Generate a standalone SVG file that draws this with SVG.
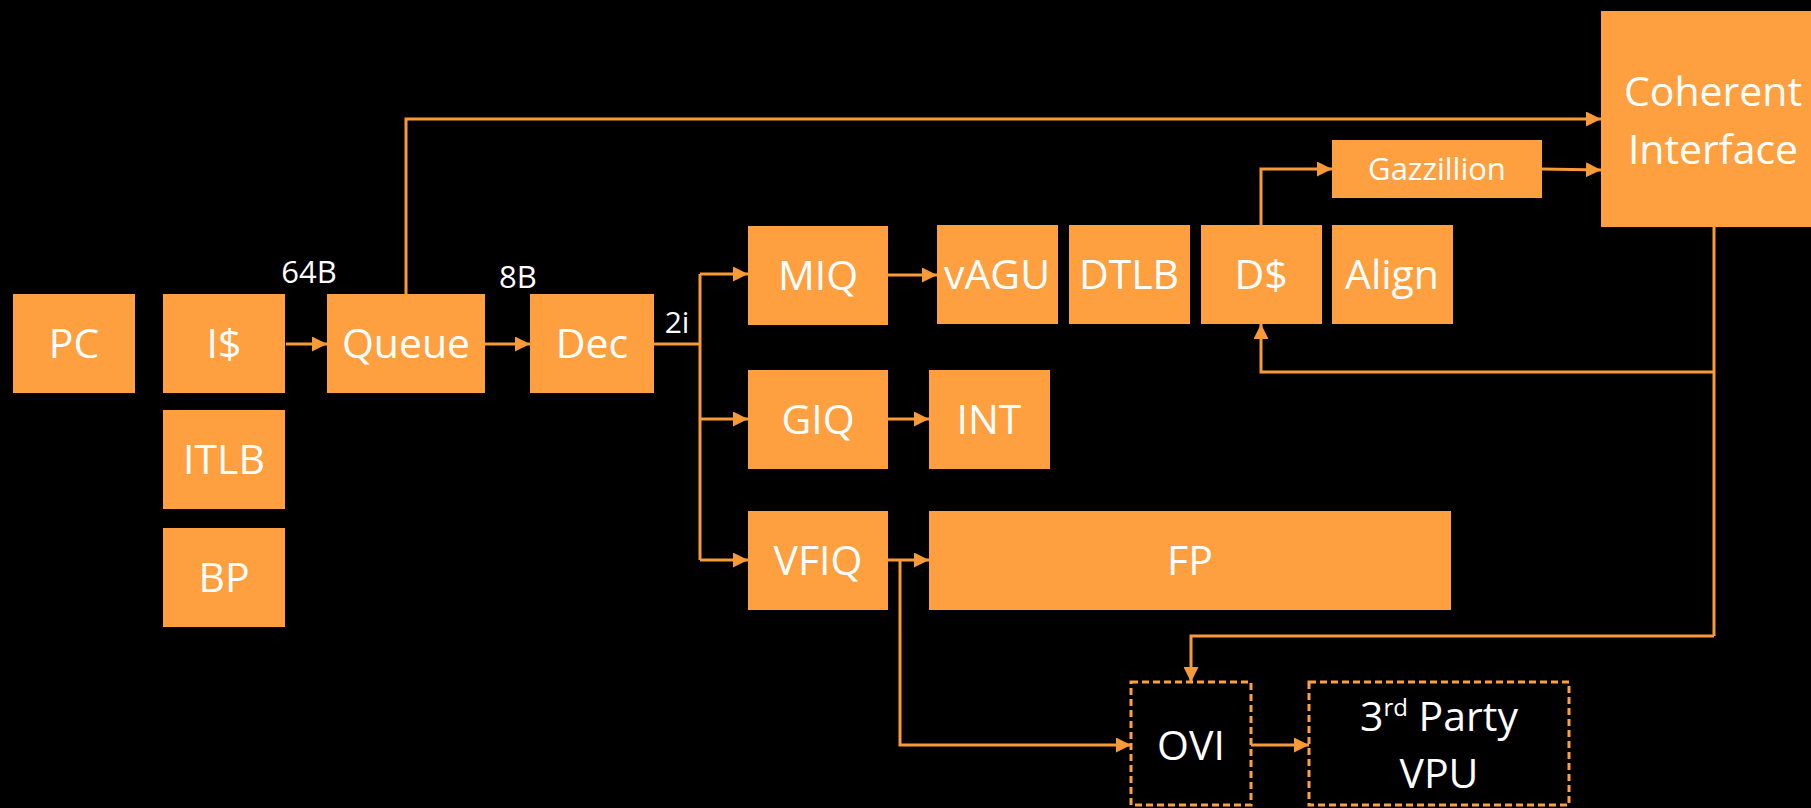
<svg xmlns="http://www.w3.org/2000/svg" width="1811" height="808" viewBox="0 0 1811 808">
<defs>
<style>
.box{fill:#FFA040}
.dash{fill:#000;stroke:#FFA040;stroke-width:3;stroke-dasharray:7,4}
.t{fill:#fff;font-family:"Open Sans","Noto Sans",sans-serif;font-size:41px;text-anchor:middle}
.s{fill:#fff;font-family:"Open Sans","Noto Sans",sans-serif;font-size:31px;text-anchor:middle}
.ln{fill:none;stroke:#F99A38;stroke-width:3}
.ar{marker-end:url(#ah)}
</style>
<marker id="ah" viewBox="0 0 15 15" refX="15" refY="7.5" markerWidth="15" markerHeight="15" markerUnits="userSpaceOnUse" orient="auto">
<path d="M0,0 L15,7.5 L0,15 z" fill="#F99A38"/>
</marker>
</defs>
<rect width="1811" height="808" fill="#000"/>
<g id="connectors">
<path class="ln ar" d="M286,344 H327"/>
<path class="ln ar" d="M485,344 H530"/>
<path class="ln" d="M654,344 H700"/>
<path class="ln" d="M700,274 V560"/>
<path class="ln ar" d="M700,274 H748"/>
<path class="ln ar" d="M700,419 H748"/>
<path class="ln ar" d="M700,560 H748"/>
<path class="ln ar" d="M406,294 V119 H1601"/>
<path class="ln ar" d="M888,275 H937"/>
<path class="ln ar" d="M888,419 H929"/>
<path class="ln ar" d="M888,560 H929"/>
<path class="ln ar" d="M1261,225 V169 H1332"/>
<path class="ln ar" d="M1542,169 L1601,170"/>
<path class="ln" d="M1714,227 V636"/>
<path class="ln ar" d="M1714,372 H1261 V324"/>
<path class="ln ar" d="M1714,636 H1191 V682"/>
<path class="ln ar" d="M900,560 V745 H1131"/>
<path class="ln ar" d="M1251,745 H1309"/>
</g>
<g id="pc"><rect class="box" x="13" y="294" width="122" height="99"/><text class="t" x="74" y="358">PC</text></g>
<g id="icache"><rect class="box" x="163" y="294" width="122" height="99"/><text class="t" x="224" y="358">I$</text></g>
<g id="itlb"><rect class="box" x="163" y="410" width="122" height="99"/><text class="t" x="224" y="474">ITLB</text></g>
<g id="bp"><rect class="box" x="163" y="528" width="122" height="99"/><text class="t" x="224" y="592">BP</text></g>
<g id="queue"><rect class="box" x="327" y="294" width="158" height="99"/><text class="t" x="406" y="358">Queue</text></g>
<g id="dec"><rect class="box" x="530" y="294" width="124" height="99"/><text class="t" x="592" y="358">Dec</text></g>
<g id="labels">
<text class="s" x="309" y="283">64B</text>
<text class="s" x="518" y="288">8B</text>
<text class="s" x="677" y="333" style="font-size:30px">2i</text>
</g>
<g id="miq"><rect class="box" x="748" y="226" width="140" height="99"/><text class="t" x="818" y="290">MIQ</text></g>
<g id="vagu"><rect class="box" x="937" y="225" width="121" height="99"/><text class="t" x="997" y="289">vAGU</text></g>
<g id="dtlb"><rect class="box" x="1069" y="225" width="121" height="99"/><text class="t" x="1129" y="289">DTLB</text></g>
<g id="dcache"><rect class="box" x="1201" y="225" width="121" height="99"/><text class="t" x="1261" y="289">D$</text></g>
<g id="align"><rect class="box" x="1332" y="225" width="121" height="99"/><text class="t" x="1392" y="289">Align</text></g>
<g id="gazzillion"><rect class="box" x="1332" y="140" width="210" height="58"/><text class="t" x="1437" y="180" style="font-size:31px">Gazzillion</text></g>
<g id="coherent"><rect class="box" x="1601" y="11" width="230" height="216"/><text class="t" x="1713" y="106">Coherent</text><text class="t" x="1713" y="164">Interface</text></g>
<g id="giq"><rect class="box" x="748" y="370" width="140" height="99"/><text class="t" x="818" y="434">GIQ</text></g>
<g id="int"><rect class="box" x="929" y="370" width="121" height="99"/><text class="t" x="989" y="434">INT</text></g>
<g id="vfiq"><rect class="box" x="748" y="511" width="140" height="99"/><text class="t" x="818" y="575">VFIQ</text></g>
<g id="fp"><rect class="box" x="929" y="511" width="522" height="99"/><text class="t" x="1190" y="575">FP</text></g>
<g id="ovi"><rect class="dash" x="1131" y="682" width="120" height="123"/><text class="t" x="1191" y="760">OVI</text></g>
<g id="vpu"><rect class="dash" x="1309" y="682" width="260" height="123"/><text class="t" x="1439" y="731">3<tspan dy="-15" style="font-size:24px">rd</tspan><tspan dy="15"> Party</tspan></text><text class="t" x="1439" y="788">VPU</text></g>
</svg>
